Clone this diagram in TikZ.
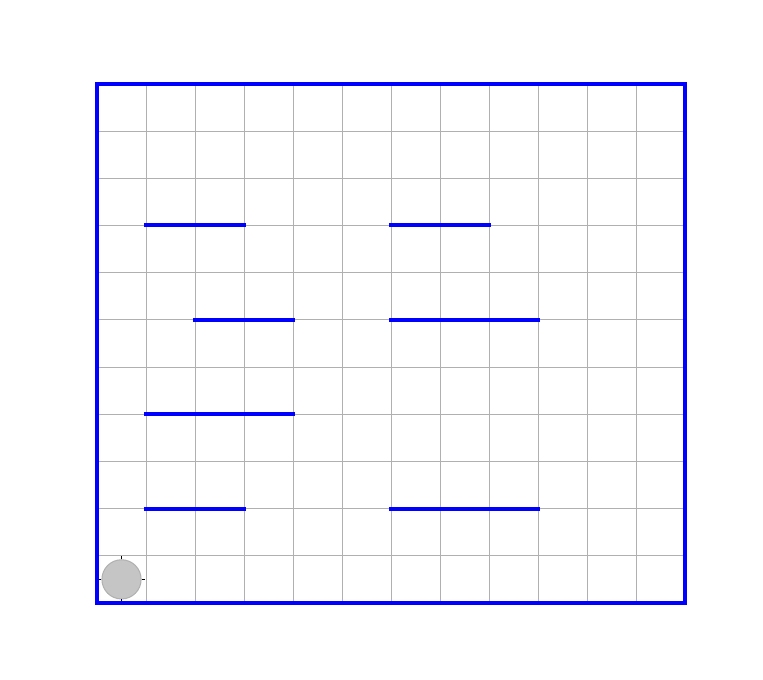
\documentclass[tikz,border=0pt]{standalone}
\usepackage{xcolor}
\usepackage{tikz}
\usetikzlibrary{calc}
\definecolor{MapBlue}{RGB}{0, 0, 255}
\definecolor{MapGrid}{RGB}{176, 176, 176}
\definecolor{MapBot}{RGB}{150, 150, 150}

\begin{document}
\begin{tikzpicture}[x=1cm, y=0.9633cm,
    gridline/.style={draw=MapGrid, line width=0.5pt},
    wall/.style={draw=MapBlue, line width=2.3pt, line cap=rect},
    botbody/.style={circle, fill=MapBot, fill opacity=0.55, draw=MapGrid, line width=0.6pt,
                    minimum size=0.8cm, inner sep=0pt},
    botmark/.style={draw=black, line width=1pt}]
    \useasboundingbox (-1.980cm,-1.571cm) rectangle (13.592cm,12.306cm);
    % grid
    \foreach \i in {1,...,11} \draw[gridline] (\i,0) -- (\i,11);
    \foreach \j in {1,...,10} \draw[gridline] (0,\j) -- (12,\j);
    % walls
    \draw[wall] (1,8) -- (3,8);
    \draw[wall] (6,8) -- (8,8);
    \draw[wall] (2,6) -- (4,6);
    \draw[wall] (6,6) -- (9,6);
    \draw[wall] (1,4) -- (4,4);
    \draw[wall] (1,2) -- (3,2);
    \draw[wall] (6,2) -- (9,2);
    % robot
    \node[botbody] (bot) at (0.5,0.5) {};
    \draw[botmark] (bot.north) -- ++(0,0.07cm);
    \draw[botmark] (bot.south) -- ++(0,-0.07cm);
    \draw[botmark] (bot.west) -- ++(-0.07cm,0);
    \draw[botmark] (bot.east) -- ++(0.07cm,0);
    % border
    \draw[wall, line cap=butt] (0,0) rectangle (12,11);
\end{tikzpicture}
\end{document}
